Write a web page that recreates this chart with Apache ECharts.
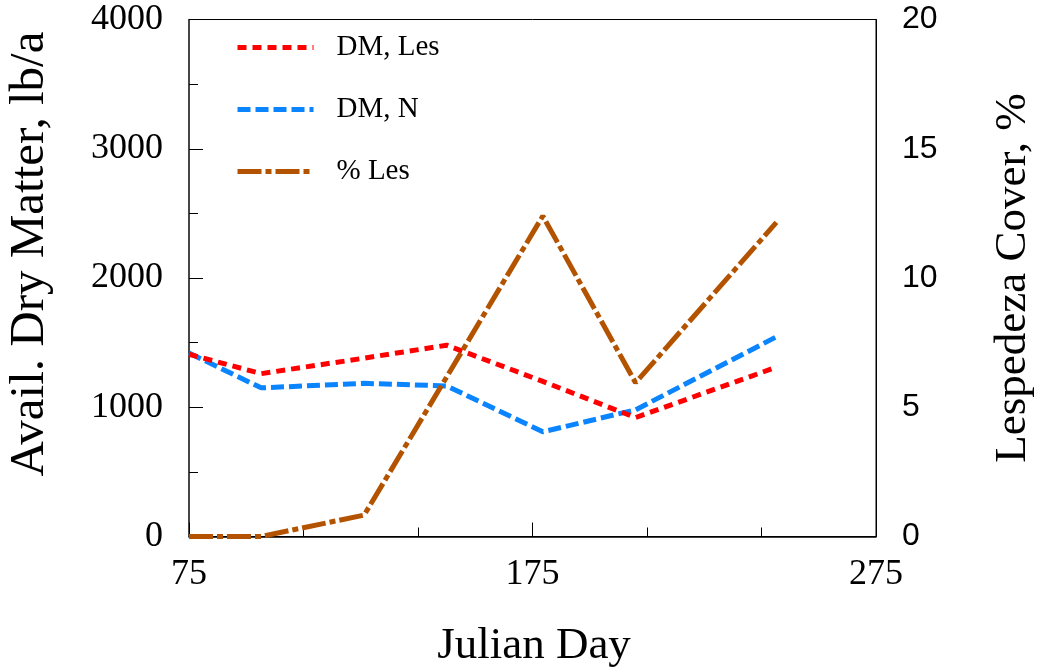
<!DOCTYPE html>
<html>
<head>
<meta charset="utf-8">
<script src="https://cdn.jsdelivr.net/npm/echarts@6/dist/echarts.min.js"></script>
<style>html,body{margin:0;padding:0;background:#fff;}#c{width:1040px;height:672px;}</style>
</head>
<body>
<div id="c"></div>
<script>
// Data
var dmDays = [75, 96, 126, 150, 178, 205, 246];
var dmLes = [1410, 1260, 1380, 1480, 1200, 920, 1310];
var dmN = [1420, 1150, 1185, 1165, 810, 980, 1545];
var lesDays = [75, 96, 126, 178, 205, 246];
var pctLes = [0, 0, 0.83, 12.4, 5.95, 12.15];
var xTicks = [75, 175, 275];
var leftTicks = [0, 1000, 2000, 3000, 4000];
var rightTicks = [0, 5, 10, 15, 20];

function pairs(xs, ys) { return xs.map(function (x, i) { return [x, ys[i]]; }); }

var serif = '"Liberation Serif", "Times New Roman", serif';
var sans = '"Liberation Sans", Arial, sans-serif';

var chart = echarts.init(document.getElementById('c'));
chart.setOption({
  animation: false,
  backgroundColor: '#fff',
  grid: { left: 189, right: 164, top: 19.5, bottom: 135.5, show: true, borderColor: '#000', borderWidth: 1, backgroundColor: 'transparent' },
  legend: {
    orient: 'vertical', left: 230, top: 28, itemWidth: 76, itemHeight: 14, itemGap: 33,
    itemStyle: { opacity: 0 },
    lineStyle: { width: 5 },
    textStyle: { fontFamily: serif, fontSize: 29, color: '#000', padding: [0, 0, 0, 18] },
    data: ['DM, Les', 'DM, N', '% Les']
  },
  xAxis: {
    type: 'value', min: xTicks[0], max: xTicks[xTicks.length - 1], interval: 100,
    axisLine: { show: true, lineStyle: { color: '#000', width: 1.5 } },
    axisTick: { show: true, inside: true, length: 14, lineStyle: { color: '#000' } },
    minorTick: { show: true, splitNumber: 3, length: 9, lineStyle: { color: '#000' } },
    splitLine: { show: false },
    axisLabel: { fontFamily: serif, fontSize: 36, color: '#000', margin: 20 }
  },
  yAxis: [{
    type: 'value', min: leftTicks[0], max: leftTicks[leftTicks.length - 1], interval: 1000,
    axisLine: { show: true, lineStyle: { color: '#333', width: 1.5 } },
    axisTick: { show: true, inside: true, length: 14, lineStyle: { color: '#000' } },
    minorTick: { show: true, splitNumber: 2, length: 9, lineStyle: { color: '#000' } },
    splitLine: { show: false },
    axisLabel: { fontFamily: serif, fontSize: 36, color: '#000', margin: 26, formatter: function (v) { return String(v); } }
  }, {
    type: 'value', position: 'right', min: rightTicks[0], max: rightTicks[rightTicks.length - 1], interval: 5,
    axisLine: { show: true, lineStyle: { color: '#000', width: 1 } },
    axisTick: { show: false },
    splitLine: { show: false },
    axisLabel: { fontFamily: sans, fontSize: 32, color: '#000', margin: 26 }
  }],
  graphic: [
    { type: 'text', x: 30, y: 254, rotation: Math.PI / 2, style: { text: 'Avail. Dry Matter, lb/a', font: '49px ' + serif, fill: '#000', textAlign: 'center', textVerticalAlign: 'middle' } },
    { type: 'text', x: 1013, y: 278, rotation: Math.PI / 2, style: { text: 'Lespedeza Cover, %', font: '45px ' + serif, fill: '#000', textAlign: 'center', textVerticalAlign: 'middle' } },
    { type: 'text', x: 534, y: 646, style: { text: 'Julian Day', font: '45px ' + serif, fill: '#000', textAlign: 'center', textVerticalAlign: 'middle' } }
  ],
  series: [{
    name: 'DM, Les', type: 'line', yAxisIndex: 0, symbol: 'none', data: pairs(dmDays, dmLes),
    lineStyle: { color: '#ff0000', width: 5, type: [9, 6] }, itemStyle: { color: '#ff0000' }, z: 3
  }, {
    name: 'DM, N', type: 'line', yAxisIndex: 0, symbol: 'none', data: pairs(dmDays, dmN),
    lineStyle: { color: '#0a84ff', width: 5, type: [13, 5] }, itemStyle: { color: '#0a84ff' }, z: 2
  }, {
    name: '% Les', type: 'line', yAxisIndex: 1, symbol: 'none', data: pairs(lesDays, pctLes),
    lineStyle: { color: '#b35300', width: 5, type: [24, 4, 6, 4] }, itemStyle: { color: '#b35300' }, z: 4
  }]
});
</script>
</body>
</html>
